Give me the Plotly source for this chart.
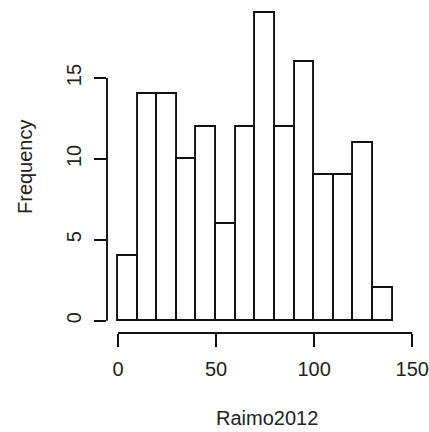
import plotly.graph_objects as go

# Histogram data (bin edges and counts)
bin_edges = [0, 10, 20, 30, 40, 50, 60, 70, 80, 90, 100, 110, 120, 130, 140]
counts = [4, 14, 14, 10, 12, 6, 12, 19, 12, 16, 9, 9, 11, 2]
x_ticks = [0, 50, 100, 150]
y_ticks = [0, 5, 10, 15]
x_label = "Raimo2012"
y_label = "Frequency"

centers = [(a + b) / 2 for a, b in zip(bin_edges[:-1], bin_edges[1:])]
widths = [b - a for a, b in zip(bin_edges[:-1], bin_edges[1:])]

W, H = 429, 432
FONT = dict(family="Liberation Sans, Arial, Helvetica, sans-serif", size=20, color="#222")

# R-like 4% axis extension
span_x = bin_edges[-1] - bin_edges[0]
x_lo = bin_edges[0] - 0.04 * span_x
x_hi = x_ticks[-1] + 5
y_max = max(counts)
y_lo = -0.04 * y_max
y_hi = y_max + 0.04 * y_max

ml, mr, mt, mb = 107, 7, 1, 99

fig = go.Figure()
fig.add_trace(go.Bar(
    x=centers, y=counts, width=widths,
    marker=dict(color="white", line=dict(color="#111", width=1.9)),
    showlegend=False, hoverinfo="x+y",
))

def px_frac(v):
    return (v - x_lo) / (x_hi - x_lo)

def py_frac(v):
    return (v - y_lo) / (y_hi - y_lo)

line_style = dict(color="#111", width=1.9)
shapes = [
    # x axis line from first to last tick
    dict(type="line", xref="paper", yref="paper",
         x0=px_frac(x_ticks[0]), x1=px_frac(x_ticks[-1]), y0=0, y1=0, line=line_style),
    # y axis line from first to last tick
    dict(type="line", xref="paper", yref="paper",
         x0=0, x1=0, y0=py_frac(y_ticks[0]), y1=py_frac(y_ticks[-1]), line=line_style),
]

fig.update_layout(
    width=W, height=H,
    margin=dict(l=ml, r=mr, t=mt, b=mb, pad=0),
    paper_bgcolor="white", plot_bgcolor="white",
    font=FONT,
    bargap=0,
    shapes=shapes,
    xaxis=dict(range=[x_lo, x_hi], tickvals=x_ticks, ticktext=[str(v) for v in x_ticks],
               ticks="outside", ticklen=13, tickwidth=1.9, tickcolor="#111",
               showline=False, showgrid=False, zeroline=False,
               ticklabelstandoff=5, tickfont=FONT),
    yaxis=dict(range=[y_lo, y_hi], tickvals=y_ticks, ticktext=[str(v) for v in y_ticks],
               ticks="outside", ticklen=12, tickwidth=1.9, tickcolor="#111",
               showline=False, showgrid=False, zeroline=False, tickangle=-90,
               ticklabelstandoff=5, tickfont=FONT),
    annotations=[
        dict(text=x_label, xref="paper", yref="paper", x=(267 - ml) / (W - ml - mr), y=0,
             xanchor="center", yanchor="middle", yshift=-85, showarrow=False, font=FONT),
        dict(text=y_label, xref="paper", yref="paper", x=0, y=0.5, textangle=-90,
             xanchor="center", yanchor="middle", xshift=-82, showarrow=False, font=FONT),
    ],
)

fig.write_html("out.html")
